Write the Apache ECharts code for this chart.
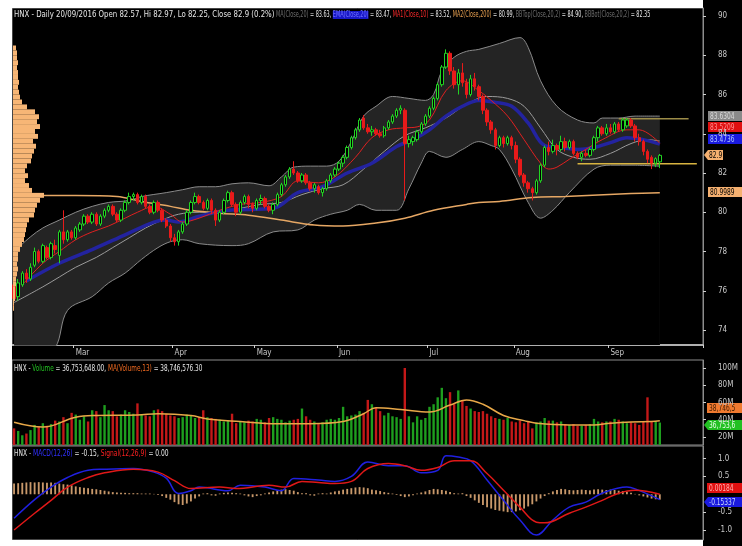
<!DOCTYPE html>
<html><head><meta charset="utf-8">
<script src="https://cdn.jsdelivr.net/npm/echarts@6/dist/echarts.min.js"></script>
<style>html,body{margin:0;padding:0;background:#fff}#c{width:742px;height:546px}</style>
</head><body><div id="c"></div>
<script>
// ---------- DATA ----------
const monthNames = ['Feb','Mar','Apr','May','Jun','Jul','Aug','Sep','pad'];
const monthDays  = [15, 24, 20, 20, 22, 21, 23, 13, 10];

// [open, close, low, high]
const candles = [
[76.3,75.6,75.2,76.5],[75.7,76.4,75.5,76.6],[76.3,76.9,76.2,77.0],[76.9,76.6,76.4,77.1],[76.6,77.2,76.5,77.4],
[77.3,78.0,77.2,78.2],[78.0,77.5,77.4,78.1],[77.5,78.3,77.4,78.4],[78.2,77.7,77.6,78.3],[77.7,78.4,77.6,78.5],
[78.3,78.1,77.9,78.6],[77.8,79.0,77.4,79.1],[79.0,78.6,78.4,80.1],[78.6,79.0,78.5,79.1],[79.0,78.7,78.6,79.1],
[78.7,79.2,78.6,79.3],[79.1,79.4,79.0,79.5],[79.4,79.8,79.3,79.9],[79.8,79.5,79.4,79.9],[79.5,79.9,79.4,80.0],
[79.9,79.4,79.3,80.0],[79.4,79.8,79.3,79.9],[79.8,80.1,79.7,80.2],[80.1,80.3,80.0,80.4],[80.3,79.9,79.8,80.4],
[79.9,79.6,79.5,80.0],[79.6,80.1,79.5,80.2],[80.1,80.5,80.0,80.6],[80.5,80.8,80.4,81.0],[80.8,80.9,80.6,81.0],
[80.9,80.5,80.4,81.0],[80.5,80.8,80.4,80.9],[80.8,80.3,80.2,80.9],[80.3,80.0,79.9,80.4],[80.0,80.5,79.9,80.6],
[80.5,80.1,80.0,80.6],[80.1,79.6,79.5,80.2],[79.6,79.3,79.2,79.7],[79.3,78.7,78.5,79.4],[78.7,78.5,78.3,78.9],
[78.5,79.0,78.3,79.1],[79.0,79.4,78.9,79.5],[79.4,80.0,79.3,80.1],[80.0,80.5,79.9,80.6],[80.5,80.8,80.4,81.0],
[80.8,80.5,80.4,80.9],[80.5,80.2,80.1,80.6],[80.2,80.6,80.1,80.7],[80.6,80.1,79.9,80.7],[80.1,79.6,79.3,80.2],
[79.6,80.0,79.5,80.1],[80.0,80.6,79.9,80.7],[80.6,81.0,80.5,81.1],[81.0,80.4,80.3,81.1],[80.4,80.0,79.8,80.5],
[80.0,80.5,79.9,80.6],[80.5,80.8,80.4,80.9],[80.8,80.4,80.2,80.9],[80.4,80.2,80.0,80.5],[80.2,80.6,80.1,80.7],
[80.6,80.7,80.4,80.9],[80.7,80.3,80.2,80.8],[80.3,80.1,80.0,80.4],[80.1,80.4,79.9,80.5],[80.4,80.9,80.3,81.0],
[80.9,81.4,80.8,81.5],[81.4,81.8,81.3,81.9],[81.8,82.2,81.7,82.3],[82.2,82.0,81.9,82.6],[82.0,81.6,81.5,82.1],
[81.6,81.9,81.5,82.0],[81.9,81.5,81.4,82.0],[81.5,81.2,81.1,81.6],[81.2,81.4,81.0,81.5],[81.3,81.0,80.9,81.4],
[81.0,81.2,80.8,81.3],[81.2,81.6,81.1,81.7],[81.6,81.9,81.5,82.0],[81.9,82.2,81.8,82.3],[82.2,82.5,82.1,82.6],
[82.5,82.8,82.3,82.9],[82.8,83.3,82.7,83.4],[83.3,83.8,83.2,83.9],[83.8,84.2,83.7,84.3],[84.2,84.7,84.1,84.8],
[84.8,84.3,84.2,84.95],[84.3,84.1,84.0,84.5],[84.1,84.2,83.9,84.4],[84.2,84.0,83.9,84.3],[84.0,83.9,83.8,84.2],
[83.9,84.3,83.8,84.4],[84.3,84.6,84.2,84.7],[84.6,84.9,84.5,85.0],[84.9,85.2,84.8,85.3],[85.2,85.3,85.0,85.45],
[85.2,83.5,80.6,85.3],[83.5,83.7,83.3,83.9],[83.6,83.8,83.4,83.9],[83.7,84.1,83.6,84.2],[84.1,84.5,84.0,84.6],
[84.5,84.9,84.4,85.0],[84.9,85.3,84.8,85.4],[85.3,85.8,85.2,85.9],[85.8,86.5,85.7,86.6],[86.5,87.4,86.4,87.5],
[87.4,88.1,87.3,88.3],[88.1,87.2,87.0,88.2],[87.2,86.5,86.3,87.4],[86.5,87.1,86.0,87.3],[87.1,86.6,86.4,87.6],
[86.6,86.0,85.8,86.8],[86.0,86.8,85.9,87.0],[86.8,86.4,86.2,87.1],[86.4,85.9,85.7,86.5],[85.9,85.2,85.0,86.0],
[85.2,84.6,84.4,85.3],[84.6,84.2,84.0,84.7],[84.2,83.4,83.2,84.3],[83.4,83.8,83.3,83.9],[83.8,83.5,83.3,83.9],
[83.5,83.8,83.4,83.9],[83.8,83.4,83.2,83.9],[83.4,82.7,82.5,83.6],[82.7,81.9,81.8,82.8],[81.9,81.5,81.3,82.0],
[81.5,81.2,81.0,81.6],[81.2,81.0,80.6,81.3],[81.0,81.6,80.9,81.7],[81.6,82.4,81.5,82.5],[82.4,83.3,82.3,83.4],
[83.3,83.1,82.9,83.6],[83.1,83.4,83.0,83.7],[83.4,83.2,82.9,83.5],[83.2,83.6,83.1,83.9],[83.6,83.3,83.1,83.8],
[83.3,83.6,83.2,83.7],[83.6,83.0,82.9,83.7],[83.0,82.8,82.7,83.1],[82.8,83.0,82.6,83.1],[83.0,82.9,82.8,83.2],
[82.9,83.2,82.8,83.3],[83.2,83.8,83.1,83.9],[83.8,84.3,83.6,84.4],[84.3,84.0,83.9,84.4],[84.0,84.3,83.9,84.5],
[84.3,84.1,84.0,84.5],[84.1,84.5,84.0,84.6],[84.5,84.2,84.1,84.6],[84.2,84.7,84.1,84.8],[84.4,84.7,84.3,84.8],
[84.7,84.4,84.3,84.8],[84.4,83.8,83.6,84.5],[83.8,83.6,83.4,84.0],[83.6,83.1,82.9,83.7],[83.1,82.7,82.5,83.2],
[82.8,82.5,82.2,82.9],[82.5,82.73,82.3,82.8],[82.57,82.9,82.25,82.97]
];

// [dayIndex, value] readings of indicator lines
const bbTop = [[0,78.0],[4,78.75],[7,79.2],[11,79.6],[15,80.0],[19,80.3],[23,80.5],[28,80.6],[31,80.8],[37,81.0],[41,81.15],[45,81.3],[49,81.3],[53,81.45],[57,81.5],[62,81.35],[65,81.8],[68,82.3],[72,82.35],[76,82.35],[79,82.6],[82,83.6],[85,84.9],[88,85.4],[92,85.9],[96,85.8],[100,85.7],[102,86.0],[104,87.2],[107,87.9],[110,88.2],[113,88.3],[118,88.6],[123,88.9],[125,88.4],[128,86.7],[132,85.4],[137,84.7],[141,84.55],[143,84.8],[147,84.8],[151,84.9],[157,84.9]];
const bbBot = [[0,72.6],[6,72.8],[10,73.1],[13,75.0],[19,75.7],[23,76.4],[27,76.9],[31,77.6],[35,78.2],[38,78.5],[41,78.6],[45,78.4],[53,78.3],[57,78.4],[63,79.0],[69,79.1],[73,79.6],[77,79.9],[81,80.1],[84,80.4],[88,80.1],[93,80.1],[96,81.2],[99,82.5],[101,83.1],[105,82.8],[109,83.2],[113,83.6],[116,83.4],[118,83.2],[121,82.2],[125,80.5],[128,79.7],[131,80.1],[135,81.0],[141,82.2],[145,82.4],[150,82.4],[157,82.35]];
const sma20 = [[0,75.4],[7,76.2],[11,76.7],[15,77.2],[20,77.7],[24,78.2],[28,78.7],[32,79.2],[36,79.6],[40,79.9],[45,80.0],[50,80.0],[55,80.2],[60,80.4],[65,80.5],[70,80.9],[75,81.2],[80,81.4],[85,82.2],[90,83.1],[95,83.9],[100,84.3],[105,84.8],[110,85.5],[115,85.9],[120,85.8],[124,85.4],[128,84.3],[132,83.2],[136,82.8],[140,82.7],[145,83.0],[150,83.5],[154,83.7],[157,83.63]];
const ema20 = [[3,76.5],[11,77.4],[19,78.1],[27,78.85],[34,79.5],[37,79.6],[40,79.5],[45,79.8],[52,80.1],[63,80.2],[69,81.0],[75,81.3],[81,82.0],[87,82.5],[93,83.35],[97,83.7],[101,84.2],[105,84.9],[109,85.4],[113,85.7],[117,85.6],[121,85.4],[125,84.55],[129,83.4],[133,83.3],[137,83.2],[141,83.3],[145,83.55],[149,83.8],[153,83.7],[157,83.47]];
const ma10 = [[2,76.3],[7,77.4],[11,78.0],[15,78.6],[19,79.0],[23,79.3],[27,79.7],[30,80.0],[34,80.3],[38,79.9],[41,79.5],[45,79.7],[50,80.1],[55,80.4],[60,80.5],[65,80.8],[69,81.6],[74,81.5],[78,81.8],[83,82.8],[87,83.8],[91,84.2],[95,84.3],[98,84.35],[101,84.7],[105,86.2],[109,86.7],[113,86.2],[116,85.7],[120,84.9],[124,83.7],[128,82.5],[130,82.2],[132,82.3],[135,82.7],[139,83.2],[143,83.7],[149,84.2],[152,84.2],[157,83.52]];
const ma200 = [[7,80.85],[15,80.85],[25,80.8],[31,80.55],[38,80.3],[43,80.1],[50,79.95],[57,79.85],[65,79.6],[73,79.35],[80,79.3],[88,79.45],[95,79.7],[102,80.1],[110,80.4],[113,80.5],[118,80.55],[126,80.75],[134,80.8],[142,80.88],[150,80.95],[157,81.0]];
const resistanceLine = [[147,84.76],[164,84.76]];
const supportLine = [[137,82.47],[166,82.47]];

// volume by price (left histogram)
const profileLevels = [75.125,75.375,75.625,75.875,76.125,76.375,76.625,76.875,77.125,77.375,77.625,77.875,78.125,78.375,78.625,78.875,79.125,79.375,79.625,79.875,80.125,80.375,80.625,80.875,81.125,81.375,81.625,81.875,82.125,82.375,82.625,82.875,83.125,83.375,83.625,83.875,84.125,84.375,84.625,84.875,85.125,85.375,85.625,85.875,86.125,86.375,86.625,86.875,87.125,87.375,87.625,87.875,88.125,88.375];
const profileVolume = [1,1,2,2,2,3,3,4,5,4,5,5,7,9,11,12,13,14,16,21,22,24,27,31,19,16,12,15,12,14,18,19,21,23,20,25,22,27,24,26,22,14,9,7,6,5,6,5,5,4,5,4,4,3];

// volume (millions)
const volume = [30,27,22,24,28,34,32,36,33,35,39,38,43,36,48,46,40,44,38,51,50,43,57,51,50,44,46,51,49,47,
59,46,45,44,51,52,50,47,45,44,42,43,46,45,42,43,51,43,42,41,40,38,39,47,36,38,37,39,38,41,
40,37,42,43,41,40,37,39,40,41,53,44,40,38,35,37,40,41,40,42,55,44,45,46,50,48,63,58,54,50,
45,48,44,43,41,100,44,37,44,40,42,55,58,66,77,65,72,58,74,63,56,53,50,49,50,47,44,42,41,40,
42,38,37,39,36,38,30,37,38,42,39,39,37,38,35,34,35,33,33,34,35,41,38,37,38,38,41,40,38,36,
37,36,34,38,66,38,38,36.75];
const volMA13 = [[0,37],[7,31.5],[15,43],[20,45],[30,45.5],[35,47],[43,45],[47,41],[55,38],[64,35.5],[72,35.5],[80,38],[85,47],[88,54],[94,52],[101,49],[106,57],[110,63],[114,58],[119,45],[124,39],[127,36],[135,34],[141,34],[145,36],[150,37.5],[155,38],[157,38.75]];

// MACD
const macdLine = [[0,-0.67],[5,-0.15],[9,0.2],[13,0.47],[18,0.67],[22,0.70],[29,0.72],[34,0.62],[37,0.45],[40,0.02],[43,0.10],[45,0.2],[52,0.10],[55,0.25],[61,0.2],[65,0.1],[68,0.44],[74,0.4],[78,0.36],[82,0.5],[86,0.9],[91,0.8],[95,0.8],[99,0.6],[103,0.67],[105,1.08],[108,1.04],[111,0.94],[115,0.4],[119,-0.17],[123,-0.72],[127,-1.14],[131,-0.72],[135,-0.36],[139,-0.22],[143,0.03],[149,0.2],[151,0.15],[157,-0.15]];
const signalLine = [[0,-1.0],[5,-0.53],[9,-0.17],[13,0.2],[18,0.47],[22,0.6],[29,0.7],[35,0.62],[39,0.38],[43,0.16],[50,0.2],[54,0.16],[62,0.25],[66,0.2],[70,0.36],[74,0.33],[78,0.3],[82,0.36],[86,0.72],[91,0.86],[95,0.8],[99,0.67],[103,0.75],[107,0.94],[111,0.94],[115,0.58],[119,0.11],[123,-0.36],[127,-0.78],[129,-0.8],[135,-0.53],[139,-0.36],[143,-0.17],[147,0.03],[151,0.11],[157,0.0]];
const macdHist = [0.30,0.31,0.32,0.33,0.34,0.33,0.34,0.33,0.32,0.33,
0.32,0.30,0.28,0.27,0.25,0.22,0.20,0.18,0.17,0.15,
0.14,0.12,0.10,0.08,0.06,0.05,0.04,0.04,0.03,0.03,
0.03,0.02,0.02,0.02,0.01,-0.02,-0.05,-0.10,-0.15,-0.22,
-0.28,-0.30,-0.26,-0.20,-0.12,-0.06,0.02,0.03,-0.03,-0.04,
0.02,0.04,0.05,0.04,0.03,0.02,-0.03,-0.06,-0.08,-0.05,
-0.03,0.02,0.05,0.08,0.11,0.13,0.14,0.12,0.10,0.06,
0.03,0.03,-0.03,-0.04,0.02,0.03,0.02,0.05,0.08,0.10,
0.13,0.15,0.17,0.19,0.20,0.19,0.17,0.13,0.11,0.09,
0.06,0.04,0.02,-0.02,-0.05,-0.08,-0.06,-0.03,0.02,0.05,
0.08,0.12,0.15,0.14,0.12,0.10,0.06,0.03,0.02,0.03,
-0.05,-0.10,-0.17,-0.24,-0.30,-0.36,-0.40,-0.44,-0.46,-0.48,
-0.50,-0.50,-0.48,-0.45,-0.40,-0.34,-0.28,-0.20,-0.12,-0.05,
0.03,0.08,0.12,0.15,0.14,0.12,0.11,0.12,0.13,0.12,
0.11,0.13,0.14,0.13,0.12,0.13,0.12,0.10,0.09,0.07,
0.04,0.01,-0.03,-0.06,-0.09,-0.12,-0.14,-0.15];

const priceTicks = [74,76,78,80,82,84,86,88,90];
const volumeTicks = [20,40,60,80,100];
const macdTicks = [-1,-0.5,0.5,1];

// ---------- CHART ----------
const FONT = '"Liberation Sans Narrow","DejaVu Sans Condensed","Arial Narrow","Liberation Sans",sans-serif';
const categories = [];
monthNames.forEach((m, k) => { for (let d = 1; d <= monthDays[k]; d++) categories.push(m + '#' + d); });
const isMonthStart = (idx, val) => { const p = String(val).split('#'); return p[1] === '1' && p[0] !== 'Feb' && p[0] !== 'pad'; };

const GREEN = '#22d422', RED = '#e81a1a';
const chart = echarts.init(document.getElementById('c'), null, {width: 742, height: 546});

function rs(c, extra) { return Object.assign({fill: c, fontSize: 8, fontFamily: FONT, fontWeight: 'normal', lineHeight: 10}, extra || {}); }
function headline(x, y, sx, text, richStyles) {
  return {type: 'text', x: x, y: y, scaleX: sx, z: 250,
    style: {text: text, rich: richStyles, fontSize: 8, fontFamily: FONT, fill: '#e6e6e6'}};
}
function tag(x, y, w, text, bg, fg, arrow) {
  return {type: 'group', x: x, y: y, z: 200, children: [
    {type: 'polygon', shape: {points: arrow ? [[0,5],[4,0],[w,0],[w,10],[4,10]] : [[0,0],[w,0],[w,10],[0,10]]}, style: {fill: bg}},
    {type: 'text', x: arrow ? 5 : 2, y: 1.5, scaleX: 0.82, style: {text: text, fill: fg, font: '8px ' + FONT}}
  ]};
}
const mainRich = {w: rs('#e6e6e6'), g: rs('#6e6e6e'), b: rs('#7070ff', {backgroundColor: '#1818c8'}), r: rs('#ff2a2a'), o: rs('#e8a050')};

const hidden = {show: false};
const option = {
  animation: false,
  backgroundColor: '#000',
  grid: [
    {left: 12, top: 8, width: 691, height: 337, show: true, borderColor: '#8c8c8c', borderWidth: 1, backgroundColor: 'transparent'},
    {left: 13, top: 45.5, width: 60, height: 265.25},
    {left: 12, top: 360, width: 691, height: 85, show: true, borderColor: '#8c8c8c', borderWidth: 1},
    {left: 12, top: 446, width: 691, height: 94, show: true, borderColor: '#8c8c8c', borderWidth: 1}
  ],
  xAxis: [
    {type: 'category', gridIndex: 0, data: categories, boundaryGap: true,
      axisLine: {show: true, lineStyle: {color: '#b0b0b0', width: 2}},
      axisTick: {show: true, interval: isMonthStart, length: 3, inside: false, lineStyle: {color: '#d0d0d0'}},
      axisLabel: {show: true, interval: isMonthStart, formatter: v => v.split('#')[0], color: '#c8c8c8', fontSize: 8, fontFamily: FONT, margin: 4, align: 'left'},
      splitLine: hidden},
    {type: 'value', gridIndex: 1, min: 0, max: 60, show: false},
    {type: 'category', gridIndex: 2, data: categories, show: false},
    {type: 'category', gridIndex: 3, data: categories, show: false}
  ],
  yAxis: [
    {type: 'value', gridIndex: 0, position: 'right', min: 73.236, max: 90.408, splitLine: hidden,
      axisLine: {show: true, lineStyle: {color: '#8c8c8c'}},
      axisTick: {show: true, customValues: priceTicks, length: 3, lineStyle: {color: '#d0d0d0'}},
      axisLabel: {customValues: priceTicks, color: '#c8c8c8', fontSize: 8, fontFamily: FONT, margin: 15}},
    {type: 'category', gridIndex: 1, data: profileLevels.map(String), show: false},
    {type: 'value', gridIndex: 2, position: 'right', min: 10.72, max: 109.28, splitLine: hidden,
      axisLine: {show: true, lineStyle: {color: '#8c8c8c'}},
      axisTick: {show: true, customValues: volumeTicks, length: 3, lineStyle: {color: '#d0d0d0'}},
      axisLabel: {customValues: volumeTicks, formatter: v => v + 'M', color: '#c8c8c8', fontSize: 8, fontFamily: FONT, margin: 15}},
    {type: 'value', gridIndex: 3, position: 'right', min: -1.279, max: 1.35, splitLine: hidden,
      axisLine: {show: true, lineStyle: {color: '#8c8c8c'}},
      axisTick: {show: true, customValues: macdTicks, length: 3, lineStyle: {color: '#d0d0d0'}},
      axisLabel: {customValues: macdTicks, formatter: v => v.toFixed(1), color: '#c8c8c8', fontSize: 8, fontFamily: FONT, margin: 15}}
  ],
  series: [
    {name: 'BBTop', type: 'line', xAxisIndex: 0, yAxisIndex: 0, data: bbTop, smooth: 0.35, symbol: 'none', z: 1,
      lineStyle: {color: '#8a8a8a', width: 1}, areaStyle: {color: '#242424', origin: 'start', opacity: 1}},
    {name: 'BBBot', type: 'line', xAxisIndex: 0, yAxisIndex: 0, data: bbBot, smooth: 0.35, symbol: 'none', z: 1,
      lineStyle: {color: '#8a8a8a', width: 1}, areaStyle: {color: '#000', origin: 'start', opacity: 1}},
    {name: 'MA20', type: 'line', data: sma20, smooth: 0.35, symbol: 'none', z: 2, lineStyle: {color: '#9a9a9a', width: 1}},
    {name: 'MA200', type: 'line', data: ma200, smooth: 0.35, symbol: 'none', z: 2, lineStyle: {color: '#e6a764', width: 1.5}},
    {name: 'EMA20', type: 'line', data: ema20, smooth: 0.35, symbol: 'none', z: 3, lineStyle: {color: '#2323a0', width: 3.5}},
    {name: 'MA10', type: 'line', data: ma10, smooth: 0.35, symbol: 'none', z: 3, lineStyle: {color: '#e02020', width: 1}},
    {name: 'HNX', type: 'candlestick', data: candles, barWidth: '72%', z: 5,
      itemStyle: {color: '#000', color0: RED, borderColor: GREEN, borderColor0: RED, borderWidth: 1}},
    {name: 'Resistance', type: 'line', data: resistanceLine, symbol: 'none', z: 4, lineStyle: {color: '#9c8c48', width: 1.5}},
    {name: 'Support', type: 'line', data: supportLine, symbol: 'none', z: 4, lineStyle: {color: '#d8b440', width: 1.5}},
    {name: 'Profile', type: 'bar', xAxisIndex: 1, yAxisIndex: 1, data: profileVolume, barCategoryGap: '0%', z: 6,
      itemStyle: {color: '#f7b676'}},
    {name: 'Volume', type: 'bar', xAxisIndex: 2, yAxisIndex: 2, barWidth: '58%',
      data: volume.map((v, i) => ({value: v, itemStyle: {color: candles[i][1] >= candles[i][0] ? '#1e9e1e' : '#c41818'}}))},
    {name: 'MA(Volume,13)', type: 'line', xAxisIndex: 2, yAxisIndex: 2, data: volMA13, smooth: 0.4, symbol: 'none', z: 4,
      lineStyle: {color: '#e8a848', width: 1.5}},
    {name: 'Hist', type: 'bar', xAxisIndex: 3, yAxisIndex: 3, data: macdHist, barWidth: '45%', itemStyle: {color: '#c8986a'}},
    {name: 'MACD', type: 'line', xAxisIndex: 3, yAxisIndex: 3, data: macdLine, smooth: 0.4, symbol: 'none', z: 4,
      lineStyle: {color: '#2020e0', width: 1.5}},
    {name: 'Signal', type: 'line', xAxisIndex: 3, yAxisIndex: 3, data: signalLine, smooth: 0.4, symbol: 'none', z: 4,
      lineStyle: {color: '#e01818', width: 1.5}}
  ],
  graphic: [
    {type: 'rect', shape: {x: 0, y: 0, width: 12, height: 546}, style: {fill: '#fff'}, z: 300},
    {type: 'rect', shape: {x: 0, y: 0, width: 703, height: 8}, style: {fill: '#fff'}, z: 300},
    {type: 'rect', shape: {x: 0, y: 540, width: 703, height: 6}, style: {fill: '#fff'}, z: 300},
    headline(14, 10, 0.97,
      '{w|HNX - Daily 20/09/2016 Open 82.57, Hi 82.97, Lo 82.25, Close 82.9 (0.2%)}', mainRich),
    headline(276, 10, 0.68,
      '{g|MA(Close,20)}{w| = 83.63, }{b|EMA(Close,20)}{w| = 83.47, }{r|MA1(Close,10)}{w| = 83.52, }{o|MA2(Close,200)}{w| = 80.99, }{g|BBTop(Close,20,2)}{w| = 84.90, }{g|BBBot(Close,20,2)}{w| = 82.35}', mainRich),
    headline(14, 364, 0.80, '{w|HNX - }{gr|Volume}{w| = 36,753,648.00, }{o|MA(Volume,13)}{w| = 38,746,576.30}',
      {w: rs('#e6e6e6'), gr: rs('#22c022'), o: rs('#f06a20')}),
    headline(14, 449, 0.83, '{w|HNX - }{b|MACD(12,26)}{w| = -0.15, }{r|Signal(12,26,9)}{w| = 0.00}',
      {w: rs('#e6e6e6'), b: rs('#3030ff'), r: rs('#ff2020')}),
    tag(708, 111, 34, '83.6304', '#8a8a8a', '#d8d8d8', false),
    tag(708, 122, 34, '83.5209', '#e01010', '#ff9090', false),
    tag(708, 134, 34, '83.4736', '#1a1ae0', '#b0c8ff', false),
    tag(704, 150, 19, '82.9', '#f5b070', '#000', true),
    tag(708, 187, 34, '80.9989', '#f5b070', '#000', false),
    tag(707, 403, 35, '38,746,5', '#f07a30', '#3a1a00', false),
    tag(704, 420, 38, '36,753,6', '#22c022', '#e8ffe8', true),
    tag(707, 483, 35, '0.00184', '#e01010', '#ffb0b0', false),
    tag(704, 497, 38, '-0.15337', '#1a1ae0', '#c8d8ff', true)
  ]
};
chart.setOption(option);
</script></body></html>
